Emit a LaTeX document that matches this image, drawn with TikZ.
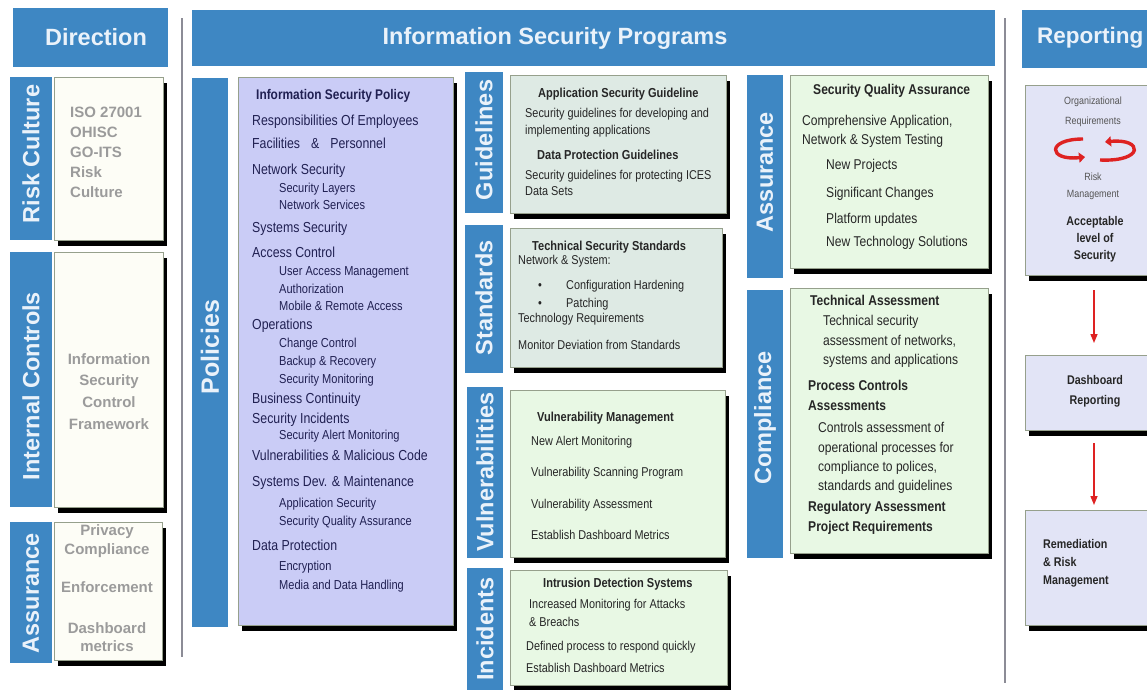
\documentclass[tikz,border=0pt]{standalone}
\usepackage{fontspec}
\setmainfont{Liberation Sans}
\newfontfamily\nar[FakeStretch=0.85]{Liberation Sans}
\usetikzlibrary{arrows.meta,shadows}
\definecolor{barblue}{RGB}{62,135,195}
\definecolor{headtext}{RGB}{234,242,250}
\definecolor{edge}{RGB}{150,160,140}
\definecolor{cream}{RGB}{253,253,246}
\definecolor{lav}{RGB}{202,204,246}
\definecolor{teal}{RGB}{222,234,228}
\definecolor{mint}{RGB}{232,248,228}
\definecolor{replav}{RGB}{226,228,246}
\definecolor{navy}{RGB}{32,32,82}
\definecolor{ink}{RGB}{38,38,38}
\definecolor{dgray}{RGB}{155,155,155}
\definecolor{mgray}{RGB}{85,85,85}
\definecolor{arred}{RGB}{222,34,34}
\definecolor{sepgray}{RGB}{140,140,150}
\newcommand\mkbox[6]{\node[#2,minimum width={#5-#3},minimum height={#6-#4}] (#1) at ({(#3+#5)/2},{(#4+#6)/2}) {};}
\tikzset{
  bar/.style={fill=barblue,draw=none,inner sep=0pt,outer sep=0pt,rectangle},
  card/.style={draw=edge,line width=0.8pt,inner sep=0pt,outer sep=0pt,rectangle,
    general shadow={fill=black,shadow xshift=4pt,shadow yshift=-6pt}},
  head/.style={font=\fontsize{23.5}{25}\selectfont\bfseries,text=headtext,inner sep=0pt},
  vlab/.style={rotate=90,font=\fontsize{23.5}{25}\selectfont\bfseries,text=headtext,inner sep=0pt},
  dtxt/.style={font=\fontsize{15}{17}\selectfont\bfseries,text=dgray,inner sep=0pt},
  pm/.style={font=\nar\fontsize{14.5}{16}\selectfont,text=navy,inner sep=0pt,anchor=mid west},
  ps/.style={font=\nar\fontsize{13}{15}\selectfont,text=navy,inner sep=0pt,anchor=mid west},
  pt/.style={font=\nar\fontsize{14}{16}\selectfont\bfseries,text=navy,inner sep=0pt,anchor=mid west},
  st/.style={font=\nar\fontsize{12.8}{15}\selectfont,text=ink,inner sep=0pt,anchor=mid west},
  sb/.style={font=\nar\fontsize{13}{15}\selectfont\bfseries,text=ink,inner sep=0pt,anchor=mid west},
  lt/.style={font=\nar\fontsize{14.2}{16}\selectfont,text=ink,inner sep=0pt,anchor=mid west},
  lb/.style={font=\nar\fontsize{14.2}{16}\selectfont\bfseries,text=ink,inner sep=0pt,anchor=mid west},
  rs/.style={font=\nar\fontsize{10.5}{12}\selectfont,text=mgray,inner sep=0pt,anchor=mid},
  rb/.style={font=\nar\fontsize{12.6}{14}\selectfont\bfseries,text=ink,inner sep=0pt},
  redloop/.style={draw=arred,line width=3.4pt,-{Triangle[length=6pt,width=10pt]}},
  flow/.style={draw=arred,line width=1.4pt,-{Triangle[length=9pt,width=7pt]}},
  sepline/.style={draw=sepgray,line width=1.5pt}
}
\begin{document}
\begin{tikzpicture}[x=1pt,y=-1pt]
\useasboundingbox (0,0) rectangle (1147,689);
\clip (0,0) rectangle (1147,689);
\fill[white] (0,0) rectangle (1147,689);

% separators
\draw[sepline] (182,18) -- (182,657);
\draw[sepline] (1005,18) -- (1005,683);

% headers
\mkbox{hdir}{bar}{13}{8}{168}{67}
\node[head] (tdir) at (96,37) {Direction};
\mkbox{hprog}{bar}{192}{10}{995}{66}
\node[head] (tprog) at (555,38) {Information Security Programs};
\mkbox{hrep}{bar}{1022}{10}{1165}{68}
\node[head,anchor=west,font=\fontsize{22.5}{24}\selectfont\bfseries] (trep) at (1037,38) {Reporting};

% Direction column
\mkbox{brc}{bar}{10}{77}{52}{240}
\node[vlab] (lrc) at (31,154) {Risk Culture};
\mkbox{crc}{card,fill=cream}{54}{77}{163}{240}
\foreach \yy/\txt [count=\i] in {115/ISO 27001,135/OHISC,155/GO-ITS,175/Risk,195/Culture}
  \node[dtxt,anchor=mid west] (drc\i) at (70,\yy) {\txt};

\mkbox{bic}{bar}{10}{252}{52}{507}
\node[vlab] (lic) at (31,386) {Internal Controls};
\mkbox{cic}{card,fill=cream}{54}{252}{163}{507}
\foreach \yy/\txt [count=\i] in {362/Information,383/Security,405/Control,427/Framework}
  \node[dtxt,anchor=mid] (dic\i) at (109,\yy) {\txt};

\mkbox{bas}{bar}{10}{522}{52}{663}
\node[vlab] (las) at (31,593) {Assurance};
\mkbox{cas}{card,fill=cream}{54}{522}{162}{660}
\foreach \yy/\txt [count=\i] in {533/Privacy,552/Compliance,590/Enforcement,631/Dashboard,649/metrics}
  \node[dtxt,anchor=mid] (das\i) at (107,\yy) {\txt};

% Policies
\mkbox{bpol}{bar}{192}{78}{228}{627}
\node[vlab,font=\fontsize{25}{27}\selectfont\bfseries] (lpol) at (210,347) {Policies};
\mkbox{cpol}{card,fill=lav}{238}{77}{453}{625}
\node[pt] (ptitle) at (256,97) {Information Security Policy};
\foreach \yy/\txt [count=\i] in {123/Responsibilities Of Employees,
  146/{Facilities\hspace{11pt}\&\hspace{11pt}Personnel},172/Network Security,230/Systems Security,
  255/Access Control,327/Operations,401/Business Continuity,421/Security Incidents,
  458/Vulnerabilities \& Malicious Code,484/Systems Dev. \& Maintenance,548/Data Protection}
  \node[pm] (pm\i) at (252,\yy) {\txt};
\foreach \yy/\txt [count=\i] in {190/Security Layers,207/Network Services,273/User Access Management,
  291/Authorization,308/Mobile \& Remote Access,345/Change Control,363/Backup \& Recovery,
  381/Security Monitoring,437/Security Alert Monitoring,505/Application Security,
  523/Security Quality Assurance,568/Encryption,587/Media and Data Handling}
  \node[ps] (ps\i) at (279,\yy) {\txt};

% Guidelines
\mkbox{bgl}{bar}{465}{72}{503}{213}
\node[vlab] (lgl) at (484,140) {Guidelines};
\mkbox{cgl}{card,fill=teal}{510}{75}{726}{213}
\node[sb] (g1) at (538,95) {Application Security Guideline};
\node[st] (g2) at (525,115) {Security guidelines for developing and};
\node[st] (g3) at (525,132) {implementing applications};
\node[sb] (g4) at (537,157) {Data Protection Guidelines};
\node[st] (g5) at (525,177) {Security guidelines for protecting ICES};
\node[st] (g6) at (525,193) {Data Sets};

% Standards
\mkbox{bst}{bar}{465}{225}{503}{373}
\node[vlab] (lst) at (484,298) {Standards};
\mkbox{cst}{card,fill=teal}{510}{228}{722}{367}
\node[sb] (s1) at (532,248) {Technical Security Standards};
\node[st] (s2) at (518,262) {Network \& System:};
\node[st] (s3b) at (538,287) {\textbullet};
\node[st] (s3) at (566,287) {Configuration Hardening};
\node[st] (s4b) at (538,305) {\textbullet};
\node[st] (s4) at (566,305) {Patching};
\node[st] (s5) at (518,320) {Technology Requirements};
\node[st] (s6) at (518,347) {Monitor Deviation from Standards};

% Vulnerabilities
\mkbox{bvu}{bar}{467}{387}{503}{558}
\node[vlab] (lvu) at (485,472) {Vulnerabilities};
\mkbox{cvu}{card,fill=mint}{510}{390}{725}{557}
\node[sb] (v1) at (537,419) {Vulnerability Management};
\node[st] (v2) at (531,443) {New Alert Monitoring};
\node[st] (v3) at (531,474) {Vulnerability Scanning Program};
\node[st] (v4) at (531,506) {Vulnerability Assessment};
\node[st] (v5) at (531,537) {Establish Dashboard Metrics};

% Incidents
\mkbox{bin}{bar}{467}{568}{503}{700}
\node[vlab] (lin) at (485,629) {Incidents};
\mkbox{cin}{card,fill=mint}{510}{570}{727}{685}
\node[sb] (i1) at (543,585) {Intrusion Detection Systems};
\node[st] (i2) at (529,606) {Increased Monitoring for Attacks};
\node[st] (i3) at (529,624) {\& Breachs};
\node[st] (i4) at (526,648) {Defined process to respond quickly};
\node[st] (i5) at (526,670) {Establish Dashboard Metrics};

% Assurance (programs)
\mkbox{bqa}{bar}{747}{75}{783}{278}
\node[vlab] (lqa) at (765,172) {Assurance};
\mkbox{cqa}{card,fill=mint}{790}{75}{988}{268}
\node[lb] (q1) at (813,92) {Security Quality Assurance};
\node[lt] (q2) at (802,123) {Comprehensive Application,};
\node[lt] (q3) at (802,142) {Network \& System Testing};
\node[lt] (q4) at (826,167) {New Projects};
\node[lt] (q5) at (826,195) {Significant Changes};
\node[lt] (q6) at (826,221) {Platform updates};
\node[lt] (q7) at (826,244) {New Technology Solutions};

% Compliance
\mkbox{bco}{bar}{747}{290}{783}{558}
\node[vlab] (lco) at (765,418) {Compliance};
\mkbox{cco}{card,fill=mint}{790}{288}{988}{553}
\node[lb] (c1) at (810,303) {Technical Assessment};
\node[lt] (c2) at (823,323) {Technical security};
\node[lt] (c3) at (823,343) {assessment of networks,};
\node[lt] (c4) at (823,362) {systems and applications};
\node[lb] (c5) at (808,388) {Process Controls};
\node[lb] (c6) at (808,408) {Assessments};
\node[lt] (c7) at (818,430) {Controls assessment of};
\node[lt] (c8) at (818,450) {operational processes for};
\node[lt] (c9) at (818,469) {compliance to polices,};
\node[lt] (c10) at (818,488) {standards and guidelines};
\node[lb] (c11) at (808,509) {Regulatory Assessment};
\node[lb] (c12) at (808,529) {Project Requirements};

% Reporting column
\mkbox{r1}{card,fill=replav}{1025}{85}{1163}{275}
\node[rs] (r1a) at (1093,102) {Organizational};
\node[rs] (r1b) at (1093,122) {Requirements};
\coordinate (la1) at (1083,139);
\coordinate (la2) at (1085,157);
\coordinate (ra1) at (1100,160);
\coordinate (ra2) at (1105,142);
\draw[redloop] (la1) .. controls (1046,139) and (1048,161) .. (la2);
\draw[redloop] (ra1) .. controls (1145,162) and (1143,138) .. (ra2);
\node[rs] (r1c) at (1093,178) {Risk};
\node[rs] (r1d) at (1093,195) {Management};
\node[rb,anchor=mid] (r1e) at (1095,223) {Acceptable};
\node[rb,anchor=mid] (r1f) at (1095,240) {level of};
\node[rb,anchor=mid] (r1g) at (1095,257) {Security};

\mkbox{r2}{card,fill=replav}{1025}{355}{1163}{430}
\node[rb,anchor=mid] (r2a) at (1095,382) {Dashboard};
\node[rb,anchor=mid] (r2b) at (1095,402) {Reporting};

\mkbox{r3}{card,fill=replav}{1025}{510}{1163}{625}
\node[rb,anchor=mid west] (r3a) at (1043,546) {Remediation};
\node[rb,anchor=mid west] (r3b) at (1043,564) {\& Risk};
\node[rb,anchor=mid west] (r3c) at (1043,582) {Management};

\draw[flow,shorten <=15pt,shorten >=12pt] (r1.south) -- (r2.north);
\draw[flow,shorten <=13pt,shorten >=5pt] (r2.south) -- (r3.north);
\end{tikzpicture}
\end{document}
